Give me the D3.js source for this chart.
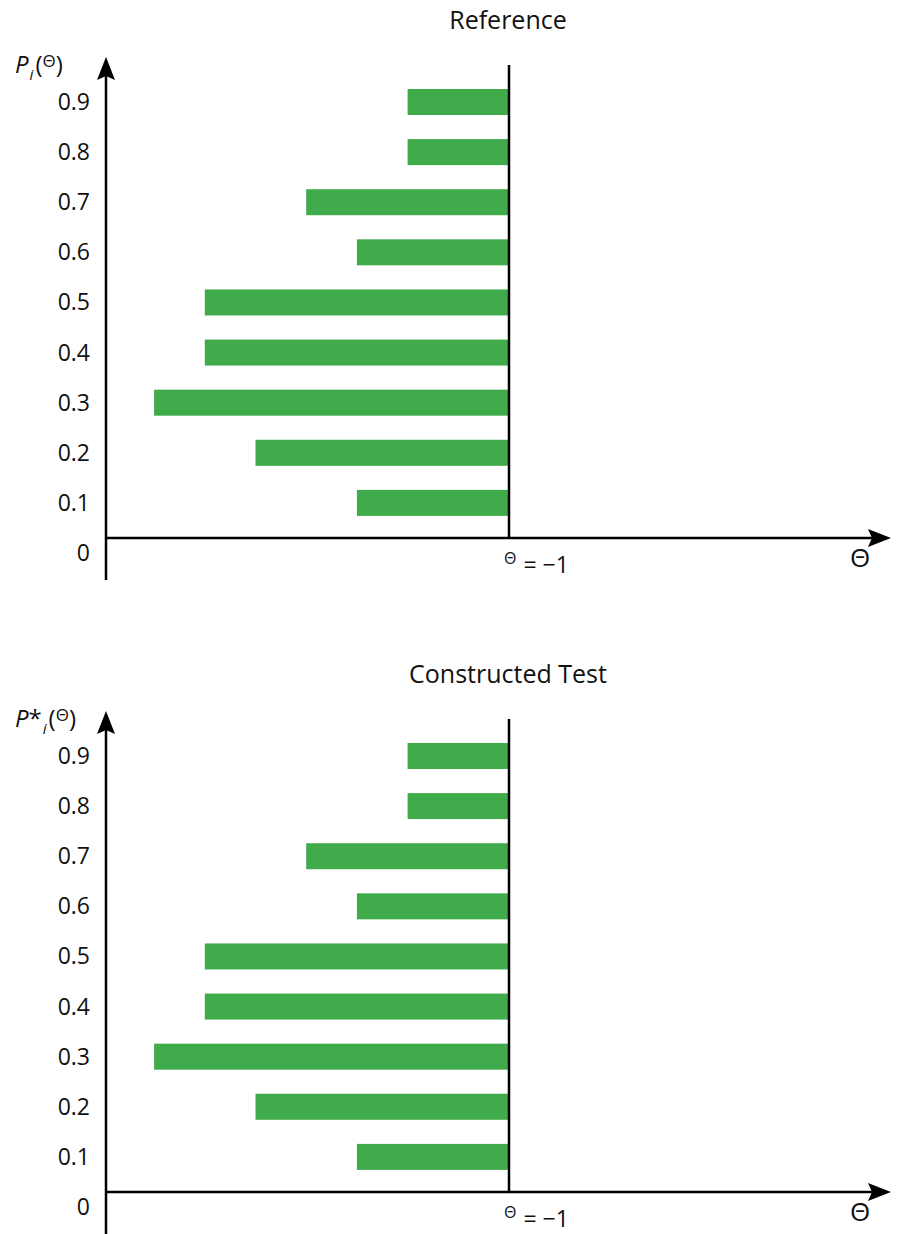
<!DOCTYPE html>
<html><head><meta charset="utf-8">
<script src="https://cdn.jsdelivr.net/npm/d3@7"></script>
<style>body{margin:0;background:#fff}svg{display:block}text{font-family:"Open Sans","Noto Sans",sans-serif;fill:#111}</style>
</head><body><svg id="c" width="899" height="1234"></svg>
<script>
const probLevels = [0.1,0.2,0.3,0.4,0.5,0.6,0.7,0.8,0.9];
const tickLabels = ["0","0.1","0.2","0.3","0.4","0.5","0.6","0.7","0.8","0.9"];
const referenceCounts = [3,5,7,6,6,3,4,2,2];
const constructedCounts = [3,5,7,6,6,3,4,2,2];
const panelTitles = ["Reference","Constructed Test"];

const svg = d3.select("#c");
const green = "#3fab4a";

function panel(offY, title, counts, star){
  const g = svg.append("g").attr("transform",`translate(0,${offY})`);
  const y = d3.scaleLinear().domain([0,0.9]).range([553,102]);
  const x = d3.scaleLinear().domain([0,8]).range([509,509-8*50.7]);
  const bh = 26;
  g.append("text").attr("x",508).attr("y",29).attr("text-anchor","middle").attr("font-size",25).text(title);
  g.selectAll("rect.bar").data(probLevels).join("rect").attr("class","bar")
    .attr("x",(d,i)=>x(counts[i])).attr("width",(d,i)=>x(0)-x(counts[i]))
    .attr("y",d=>y(d)-bh/2).attr("height",bh).attr("fill",green);
  // axes
  g.append("line").attr("x1",106).attr("x2",106).attr("y1",580).attr("y2",75).attr("stroke","#000").attr("stroke-width",2.5);
  g.append("path").attr("d","M106,57 L97,80 L106,76 L115,80 Z").attr("fill","#000");
  g.append("line").attr("x1",106).attr("x2",872).attr("y1",538).attr("y2",538).attr("stroke","#000").attr("stroke-width",2.5);
  g.append("path").attr("d","M891,538 L868,529 L872,538 L868,547 Z").attr("fill","#000");
  g.append("line").attr("x1",x(0)).attr("x2",x(0)).attr("y1",65).attr("y2",538).attr("stroke","#000").attr("stroke-width",2.5);
  // tick labels
  g.selectAll("text.tl").data(tickLabels).join("text").attr("class","tl")
    .attr("x",90).attr("y",(d,i)=>y(i/10)+8).attr("text-anchor","end").attr("font-size",23).text(d=>d);
  // theta label
  g.append("text").attr("x",860).attr("y",567).attr("text-anchor","middle").attr("font-size",26).text("Θ");
  const t = g.append("text").attr("x",504).attr("y",573).attr("font-size",23);
  t.append("tspan").attr("font-size",16).attr("dy",-9).text("Θ");
  t.append("tspan").attr("dy",9).attr("dx",7).text("= −1");
  // y label
  const yl = g.append("text").attr("x",15).attr("y",73).attr("font-size",24);
  yl.append("tspan").attr("font-style","italic").text("P");
  if(star) yl.append("tspan").text("*");
  yl.append("tspan").attr("font-style","italic").attr("font-size",15).attr("dy",7).attr("dx",1).text("i");
  yl.append("tspan").attr("dy",-7).attr("dx",2).text("(");
  yl.append("tspan").attr("font-size",17).attr("dy",-6).text("Θ");
  yl.append("tspan").attr("dy",6).text(")");
}
panel(0, panelTitles[0], referenceCounts, false);
panel(654, panelTitles[1], constructedCounts, true);
</script></body></html>
